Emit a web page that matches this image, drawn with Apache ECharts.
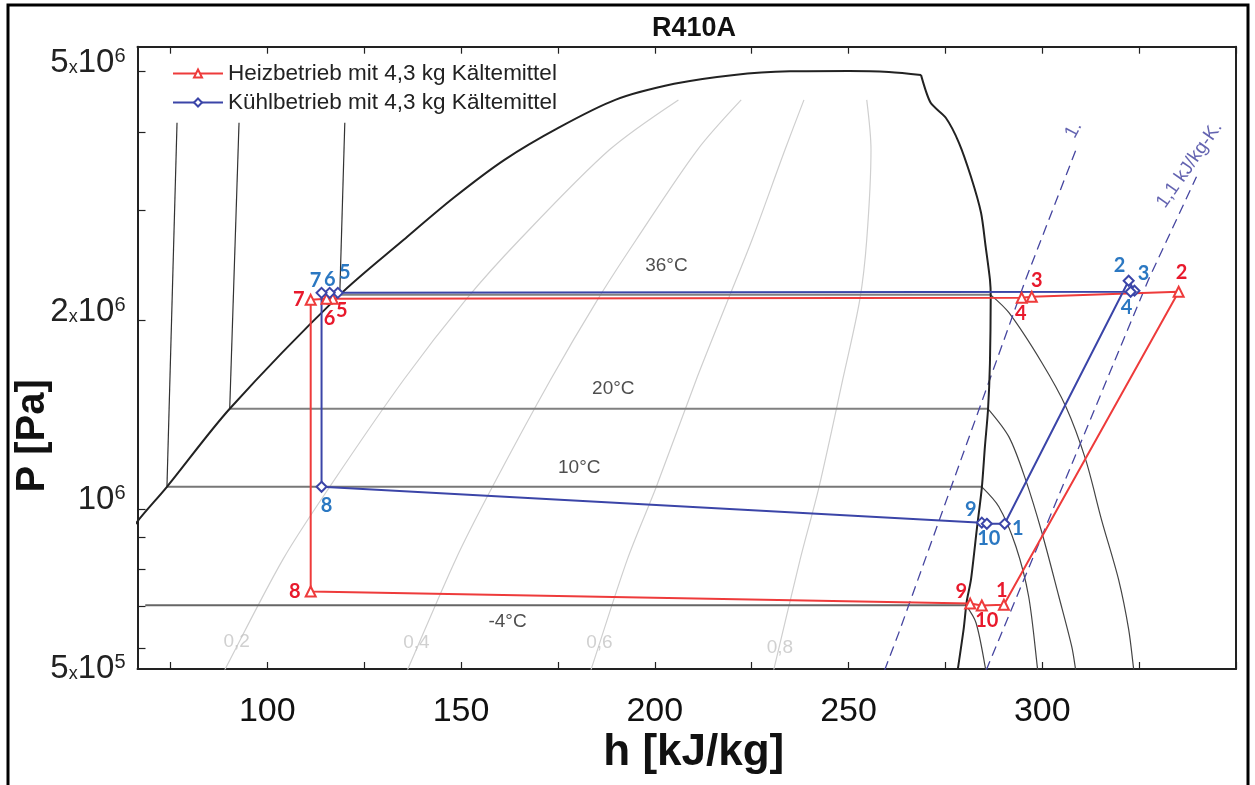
<!DOCTYPE html>
<html>
<head>
<meta charset="utf-8">
<title>R410A</title>
<script src="https://cdn.jsdelivr.net/npm/echarts@6/dist/echarts.min.js"></script>
<style>
  html, body { margin: 0; padding: 0; background: #fff; }
  #chart { width: 1255px; height: 785px; }
</style>
</head>
<body>
<div id="chart"></div>
<script>
// ---- axes ----
const hRange = [66.5, 350];
const pRange = [5.55e5, 5.48e6];
const hTickValues = [75, 100, 125, 150, 175, 200, 225, 250, 275, 300, 325, 350];
const hLabelValues = [100, 150, 200, 250, 300];
const pTickValues = [6e5, 7e5, 8e5, 9e5, 1e6, 2e6, 3e6, 4e6, 5e6];
const pLabelValues = [5e5, 1e6, 2e6, 5e6];
const pLabelTexts = ['{m|5}{x|x}{m|10}{e|5}', '{m|10}{e|6}', '{m|2}{x|x}{m|10}{e|6}', '{m|5}{x|x}{m|10}{e|6}'];

// ---- refrigeration cycles, states 1..10 ----
const stateNames = ['1', '2', '3', '4', '5', '6', '7', '8', '9', '10'];
const heizName = 'Heizbetrieb mit 4,3 kg Kältemittel';
const heizH = [290.1, 335.2, 297.3, 294.7, 116.9, 115.3, 111.2, 111.2, 281.4, 284.4];
const heizP = [7.03e5, 2.224e6, 2.183e6, 2.175e6, 2.167e6, 2.167e6, 2.159e6, 7.38e5, 7.06e5, 7.01e5];
const kuehlName = 'Kühlbetrieb mit 4,3 kg Kältemittel';
const kuehlH = [290.3, 322.3, 323.8, 322.8, 118.2, 116.1, 114.0, 114.0, 284.4, 285.7];
const kuehlP = [9.47e5, 2.316e6, 2.233e6, 2.224e6, 2.215e6, 2.215e6, 2.215e6, 1.085e6, 9.51e5, 9.47e5];

// label placement of the state numbers (pixels, relative to the marker)
const heizLabelOffsets = [[-2, -14], [3, -19], [5, -16], [-1, 16], [9, 12], [3, 20], [-12, 0], [-16, 0], [-9, -12], [5, 15]];
const kuehlLabelOffsets = [[13, 5], [-9, -15], [9, -17], [-4, 16], [7, -20], [0, -13], [-6, -12], [5, 19], [-11, -13], [2, 15]];

// ---- saturation dome ----
const domeLiqH = [41.4, 59.4, 66.4, 74.1, 90.3, 118.7, 135.2, 148.1, 161.2, 175.1, 189.8, 205.0, 220.5, 234.9, 250.1, 260.4, 268.7];
const domeLiqP = [5.5e5, 8.30e5, 9.54e5, 1.085e6, 1.446e6, 2.199e6, 2.693e6, 3.143e6, 3.614e6, 4.065e6, 4.506e6, 4.780e6, 4.940e6, 5.005e6, 5.013e6, 4.995e6, 4.94e6];
const domeVapH = [268.7, 271.2, 275.1, 278.5, 281.6, 284.2, 285.4, 286.5, 286.7, 286.5, 286.0, 285.2, 284.4, 283.1, 281.6, 280.5, 279.7, 278.2, 277.8];
const domeVapP = [4.94e6, 4.457e6, 4.219e6, 3.848e6, 3.395e6, 2.974e6, 2.624e6, 2.325e6, 2.183e6, 1.713e6, 1.441e6, 1.258e6, 1.081e6, 9.27e5, 7.71e5, 7.11e5, 6.42e5, 5.54e5, 5.3e5];

// ---- isotherms: subcooled liquid, two-phase, superheated vapour ----
const iso36LiqH = [120.0, 118.7];            const iso36LiqP = [4.142e6, 2.199e6];
const iso20LiqH = [92.7, 90.3];              const iso20LiqP = [4.142e6, 1.446e6];
const iso10LiqH = [76.7, 74.1];              const iso10LiqP = [4.142e6, 1.085e6];
const iso36TwoH = [118.7, 286.7];            const iso36TwoP = [2.199e6, 2.199e6];
const iso20TwoH = [90.3, 286.0];             const iso20TwoP = [1.446e6, 1.446e6];
const iso10TwoH = [74.1, 284.4];             const iso10TwoP = [1.085e6, 1.085e6];
const isoM4TwoH = [68.5, 280.3];             const isoM4TwoP = [7.02e5, 7.02e5];
const iso36VapH = [286.7, 291.4, 299.9, 306.1, 311.2, 315.3, 319.7, 322.3, 323.6, 324.0];
const iso36VapP = [2.199e6, 2.059e6, 1.713e6, 1.457e6, 1.199e6, 9.61e5, 7.71e5, 6.42e5, 5.54e5, 5.3e5];
const iso20VapH = [286.0, 291.4, 295.7, 299.9, 304.3, 307.6, 308.6, 309.0];
const iso20VapP = [1.446e6, 1.304e6, 1.114e6, 9.17e5, 7.24e5, 6.03e5, 5.54e5, 5.3e5];
const iso10VapH = [284.4, 288.8, 293.2, 296.5, 298.8, 299.1];
const iso10VapP = [1.085e6, 1.0085e6, 8.71e5, 7.24e5, 5.54e5, 5.3e5];
const isoM4VapH = [280.3, 282.9, 285.4, 285.8];
const isoM4VapP = [7.02e5, 6.58e5, 5.54e5, 5.3e5];
const isoLabelTexts = ['36°C', '20°C', '10°C', '-4°C'];
const isoLabelH = [203.0, 189.3, 180.5, 162.0];
const isoLabelP = [2.447e6, 1.557e6, 1.164e6, 6.607e5];

// ---- vapour quality lines (shared pressure levels) ----
const qP = [4.506e6, 3.750e6, 2.693e6, 2.159e6, 1.609e6, 1.085e6, 8.30e5, 5.5e5, 5.145e5];
const q02H = [206.1, 188.3, 165.1, 151.2, 135.2, 116.1, 104.0, 88.8, 86.5];
const q04H = [222.3, 211.0, 195.2, 185.2, 173.1, 158.1, 148.6, 136.0, 133.9];
const q06H = [238.5, 233.6, 225.1, 218.9, 210.7, 200.4, 192.9, 183.4, 181.8];
const q08H = [254.7, 255.8, 254.7, 252.9, 248.5, 242.4, 237.5, 230.6, 229.5];
const qualityLabelTexts = ['0,2', '0,4', '0,6', '0,8'];
const qualityLabelH = [92.1, 138.5, 185.7, 232.3];
const qualityLabelP = [6.14e5, 6.12e5, 6.12e5, 6.0e5];

// ---- isentropes ----
const s10H = [257.8, 263.0, 295.7, 308.9];
const s10P = [5.22e5, 6.345e5, 2.325e6, 3.778e6];
const s11H = [284.1, 285.4, 327.4, 339.8];
const s11P = [5.22e5, 5.5e5, 2.325e6, 3.395e6];
const entropyLabelTexts = ['1.', '1,1 kJ/kg-K.'];
const entropyLabelH = [308.1, 338.0];
const entropyLabelP = [4.036e6, 3.548e6];
const entropyLabelRotate = [62, 55];

// ---------------------------------------------------------------
const FONT = 'Liberation Sans, Arial, Helvetica, sans-serif';
const lg = Math.log10;
const yMin = lg(pRange[0]);
const yMax = lg(pRange[1]);
const pts = (H, P) => H.map((h, i) => [h, lg(P[i])]);
const yLabelPos = pLabelValues.map(p => Math.max(lg(p), yMin));

function yLabelText(v) {
  const i = yLabelPos.findIndex(q => Math.abs(q - v) < 1e-6);
  return i >= 0 ? pLabelTexts[i] : '';
}
const yLabelRich = {
  m: { fontFamily: FONT, fontSize: 33, color: '#222' },
  x: { fontFamily: FONT, fontSize: 18, color: '#222', verticalAlign: 'bottom', padding: [0, 0, 2, 0] },
  e: { fontFamily: FONT, fontSize: 20, color: '#222', verticalAlign: 'top' }
};

function plainLine(H, P, color, width, smooth, extra) {
  return Object.assign({
    type: 'line', data: pts(H, P), symbol: 'none', silent: true, smooth: smooth,
    lineStyle: { color: color, width: width }, z: 2
  }, extra || {});
}

function textSeries(texts, H, P, style, rotate) {
  return {
    type: 'scatter', silent: true, symbolSize: 0, z: 4,
    data: texts.map((t, i) => ({
      value: [H[i], lg(P[i])],
      label: {
        show: true, position: 'inside', formatter: t,
        rotate: rotate ? rotate[i] : 0,
        color: style.color, fontSize: style.fontSize, fontFamily: FONT
      }
    }))
  };
}

function cycleSeries(name, H, P, offsets, lineColor, symbol, symbolSize, labelColor) {
  const data = H.map((h, i) => ({
    value: [h, lg(P[i])],
    label: {
      show: true, position: 'inside', formatter: stateNames[i], offset: offsets[i],
      color: labelColor, fontSize: 20, fontWeight: 'bold', fontFamily: 'Lato, Open Sans, sans-serif'
    }
  }));
  data.push({ value: [H[0], lg(P[0])], symbol: 'none', label: { show: false } });
  return {
    name: name, type: 'line', data: data, smooth: false,
    symbol: symbol, symbolSize: symbolSize, showAllSymbol: true,
    lineStyle: { color: lineColor, width: 2 },
    itemStyle: { color: lineColor, borderColor: lineColor, borderWidth: 1.2 },
    z: 5
  };
}

const chart = echarts.init(document.getElementById('chart'), null, { renderer: 'canvas' });

const option = {
  animation: false,
  backgroundColor: '#fff',
  title: {
    text: 'R410A', left: 647, top: 10,
    textStyle: { fontFamily: FONT, fontSize: 27, fontWeight: 'bold', color: '#111' }
  },
  graphic: [{
    type: 'rect', silent: true, z: 100,
    shape: { x: 8, y: 5, width: 1240, height: 800 },
    style: { fill: 'none', stroke: '#000', lineWidth: 3 }
  }],
  legend: {
    orient: 'vertical', left: 167, top: 57,
    itemWidth: 50, itemHeight: 10, itemGap: 6,
    textStyle: { fontFamily: FONT, fontSize: 22.5, color: '#222' },
    data: [heizName, kuehlName]
  },
  grid: { left: 137.5, right: 19, top: 46.7, bottom: 116, show: false, containLabel: false, outerBoundsMode: 'none' },
  xAxis: [{
    type: 'value', min: hRange[0], max: hRange[1], position: 'bottom',
    name: 'h [kJ/kg]', nameLocation: 'middle', nameGap: 62, nameMoveOverlap: false,
    nameTextStyle: { fontFamily: FONT, fontSize: 44, fontWeight: 'bold', color: '#111', padding: [0, 0, 0, 14] },
    axisLine: { show: true, lineStyle: { color: '#222', width: 2 } },
    axisTick: { show: true, inside: true, length: 7, customValues: hTickValues, lineStyle: { color: '#222', width: 1.2 } },
    axisLabel: { customValues: hLabelValues, fontFamily: FONT, fontSize: 34, color: '#111', margin: 26 },
    splitLine: { show: false }
  }, {
    type: 'value', min: hRange[0], max: hRange[1], position: 'top',
    axisLine: { show: true, lineStyle: { color: '#222', width: 2 } },
    axisTick: { show: true, inside: true, length: 7, customValues: hTickValues, lineStyle: { color: '#222', width: 1.2 } },
    axisLabel: { show: false },
    splitLine: { show: false }
  }],
  yAxis: [{
    type: 'value', min: yMin, max: yMax, position: 'left',
    name: 'P [Pa]', nameLocation: 'middle', nameGap: 85, nameRotate: 90, nameMoveOverlap: false,
    nameTextStyle: { fontFamily: FONT, fontSize: 40, fontWeight: 'bold', color: '#111', padding: [0, 156, 0, 0] },
    axisLine: { show: true, lineStyle: { color: '#222', width: 2 } },
    axisTick: { show: true, inside: true, length: 8, customValues: pTickValues.map(lg), lineStyle: { color: '#222', width: 1.2 } },
    axisLabel: {
      customValues: yLabelPos.slice(1), margin: 12, padding: [0, 0, 18, 0],
      formatter: yLabelText, rich: yLabelRich
    },
    splitLine: { show: false }
  }, {
    type: 'value', min: yMin, max: yMax, position: 'right',
    axisLine: { show: true, lineStyle: { color: '#222', width: 2 } },
    axisTick: { show: false }, axisLabel: { show: false }, splitLine: { show: false }
  }, {
    // bottom label of the pressure axis, set level with the axis end
    type: 'value', min: yMin, max: yMax, position: 'left',
    axisLine: { show: false }, axisTick: { show: false }, splitLine: { show: false },
    axisLabel: { customValues: yLabelPos.slice(0, 1), margin: 12, formatter: yLabelText, rich: yLabelRich }
  }],
  series: [
    // quality lines
    plainLine(q02H, qP, '#cfcfcf', 1.2, 0.3),
    plainLine(q04H, qP, '#cfcfcf', 1.2, 0.3),
    plainLine(q06H, qP, '#cfcfcf', 1.2, 0.3),
    plainLine(q08H, qP, '#cfcfcf', 1.2, 0.3),
    // isotherms
    plainLine(iso36LiqH, iso36LiqP, '#333', 1.2, false),
    plainLine(iso20LiqH, iso20LiqP, '#333', 1.2, false),
    plainLine(iso10LiqH, iso10LiqP, '#333', 1.2, false),
    plainLine(iso36TwoH, iso36TwoP, '#808080', 2, false),
    plainLine(iso20TwoH, iso20TwoP, '#808080', 2, false),
    plainLine(iso10TwoH, iso10TwoP, '#777', 2, false),
    plainLine(isoM4TwoH, isoM4TwoP, '#666', 2, false),
    plainLine(iso36VapH, iso36VapP, '#444', 1.2, 0.3),
    plainLine(iso20VapH, iso20VapP, '#444', 1.2, 0.3),
    plainLine(iso10VapH, iso10VapP, '#444', 1.2, 0.3),
    plainLine(isoM4VapH, isoM4VapP, '#444', 1.2, 0.3),
    // saturation dome
    plainLine(domeLiqH, domeLiqP, '#222', 2, 0.3, { z: 3 }),
    plainLine(domeVapH, domeVapP, '#222', 2, 0.25, { z: 3 }),
    // isentropes
    plainLine(s10H, s10P, '#4646a0', 1.3, false, { lineStyle: { color: '#4646a0', width: 1.3, type: [10, 6] } }),
    plainLine(s11H, s11P, '#4646a0', 1.3, false, { lineStyle: { color: '#4646a0', width: 1.3, type: [10, 6] } }),
    // annotations
    textSeries(isoLabelTexts, isoLabelH, isoLabelP, { color: '#222', fontSize: 19 }),
    textSeries(qualityLabelTexts, qualityLabelH, qualityLabelP, { color: '#c4c4c4', fontSize: 19 }),
    textSeries(entropyLabelTexts, entropyLabelH, entropyLabelP, { color: '#3c3c9c', fontSize: 19 }, entropyLabelRotate),
    // cycles
    cycleSeries(heizName, heizH, heizP, heizLabelOffsets, '#ee3b3b', 'emptyTriangle', 10, '#e8192c'),
    cycleSeries(kuehlName, kuehlH, kuehlP, kuehlLabelOffsets, '#3b45a8', 'emptyDiamond', 10, '#2b78c2')
  ]
};

chart.setOption(option);
</script>
</body>
</html>
